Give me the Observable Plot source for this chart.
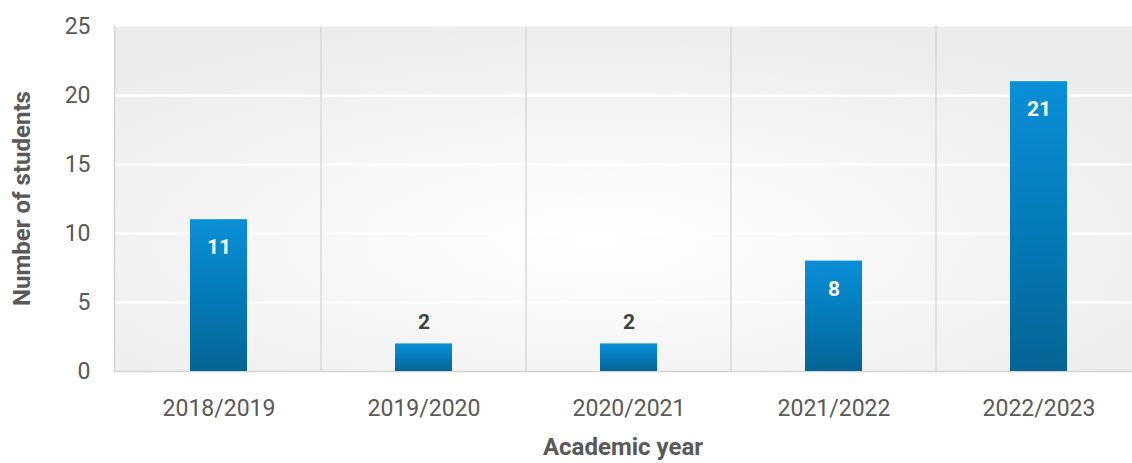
<!DOCTYPE html>
<html>
<head>
<meta charset="utf-8">
<script src="https://cdn.jsdelivr.net/npm/d3@7"></script>
<script src="https://cdn.jsdelivr.net/npm/@observablehq/plot@0.6"></script>
<style>
  html, body { margin: 0; padding: 0; background: #ffffff; overflow: hidden; }
  #chart { width: 1132px; height: 463px; overflow: hidden; }
  #chart svg { max-width: none !important; }
</style>
</head>
<body>
<div id="chart"></div>
<script>
const years = ["2018/2019", "2019/2020", "2020/2021", "2021/2022", "2022/2023"];
const students = [11, 2, 2, 8, 21];
const yTicks = [0, 5, 10, 15, 20, 25];
const xTitle = "Academic year";
const yTitle = "Number of students";

const data = years.map((year, i) => ({year, students: students[i]}));
const insideThreshold = 5;

const FONT = "Roboto, 'Liberation Sans', sans-serif";

const defs = () => {
  const g = d3.create("svg:defs");
  const bar = g.append("linearGradient").attr("id", "barGrad")
    .attr("x1", 0).attr("y1", 0).attr("x2", 0).attr("y2", 1);
  bar.append("stop").attr("offset", "0%").attr("stop-color", "#0a8fd8");
  bar.append("stop").attr("offset", "55%").attr("stop-color", "#0479b6");
  bar.append("stop").attr("offset", "100%").attr("stop-color", "#056494");
  const bg = g.append("radialGradient").attr("id", "bgGrad")
    .attr("cx", "0.47").attr("cy", "0.62").attr("r", "0.65");
  bg.append("stop").attr("offset", "0%").attr("stop-color", "#ffffff");
  bg.append("stop").attr("offset", "100%").attr("stop-color", "#ececec");
  return g.node();
};

const separators = (index, scales, values, dims) => {
  const g = d3.create("svg:g");
  const x = scales.x;
  const top = dims.marginTop, bottom = dims.height - dims.marginBottom;
  years.slice(1).forEach(yr => {
    const px = x(yr);
    g.append("line").attr("x1", px).attr("x2", px).attr("y1", top).attr("y2", bottom)
      .attr("stroke", "#d9d9d9").attr("stroke-width", 1.5);
  });
  return g.node();
};

const titles = (index, scales, values, dims) => {
  const g = d3.create("svg:g")
    .attr("font-family", FONT).attr("font-weight", "bold")
    .attr("font-size", 24).attr("fill", "#595959").attr("text-anchor", "middle");
  const bottom = dims.height - dims.marginBottom;
  const midY = (dims.marginTop + bottom) / 2;
  const midX = 114 + (1132 - 114) / 2;
  g.append("text").attr("x", midX).attr("y", bottom + 76).attr("dy", "0.35em").text(xTitle);
  g.append("text").attr("transform", `translate(${dims.marginLeft - 92},${midY}) rotate(-90)`)
    .attr("dy", "0.35em").text(yTitle);
  return g.node();
};

const chart = Plot.plot({
  width: 1143,
  height: 463,
  marginTop: 26,
  marginBottom: 92,
  marginLeft: 114,
  marginRight: 0,
  style: {fontFamily: FONT, background: "transparent", fontSize: "23px", color: "#595959"},
  x: {domain: years, padding: 0, label: null, tickSize: 0, tickPadding: 29},
  y: {domain: [0, 25], ticks: yTicks, label: null, tickSize: 0, tickPadding: 24},
  marks: [
    defs,
    Plot.frame({fill: "url(#bgGrad)", stroke: null}),
    Plot.gridY(yTicks.filter(t => t > 0 && t < 25), {stroke: "#ffffff", strokeOpacity: 1, strokeWidth: 2.5}),
    separators,
    Plot.ruleY([0], {stroke: "#d4d4d4", strokeWidth: 1.5}),
    Plot.frame({anchor: "left", stroke: "#d4d4d4", strokeWidth: 1.5}),
    Plot.barY(data, {x: "year", y: "students", fill: "url(#barGrad)", insetLeft: 74, insetRight: 74}),
    Plot.text(data.filter(d => d.students >= insideThreshold), {
      x: "year", y: "students", text: d => String(d.students), dy: 28,
      fill: "#ffffff", fontWeight: "bold", fontSize: 21, fontFamily: FONT
    }),
    Plot.text(data.filter(d => d.students < insideThreshold), {
      x: "year", y: "students", text: d => String(d.students), dy: -22,
      fill: "#404040", fontWeight: "bold", fontSize: 21, fontFamily: FONT
    }),
    Plot.axisX({tickSize: 0, tickPadding: 28, fontSize: 23, fill: "#595959", label: null}),
    Plot.axisY({ticks: yTicks, tickSize: 0, tickPadding: 24, fontSize: 23, fill: "#595959", label: null}),
    titles
  ]
});
document.getElementById("chart").appendChild(chart);
</script>
</body>
</html>
